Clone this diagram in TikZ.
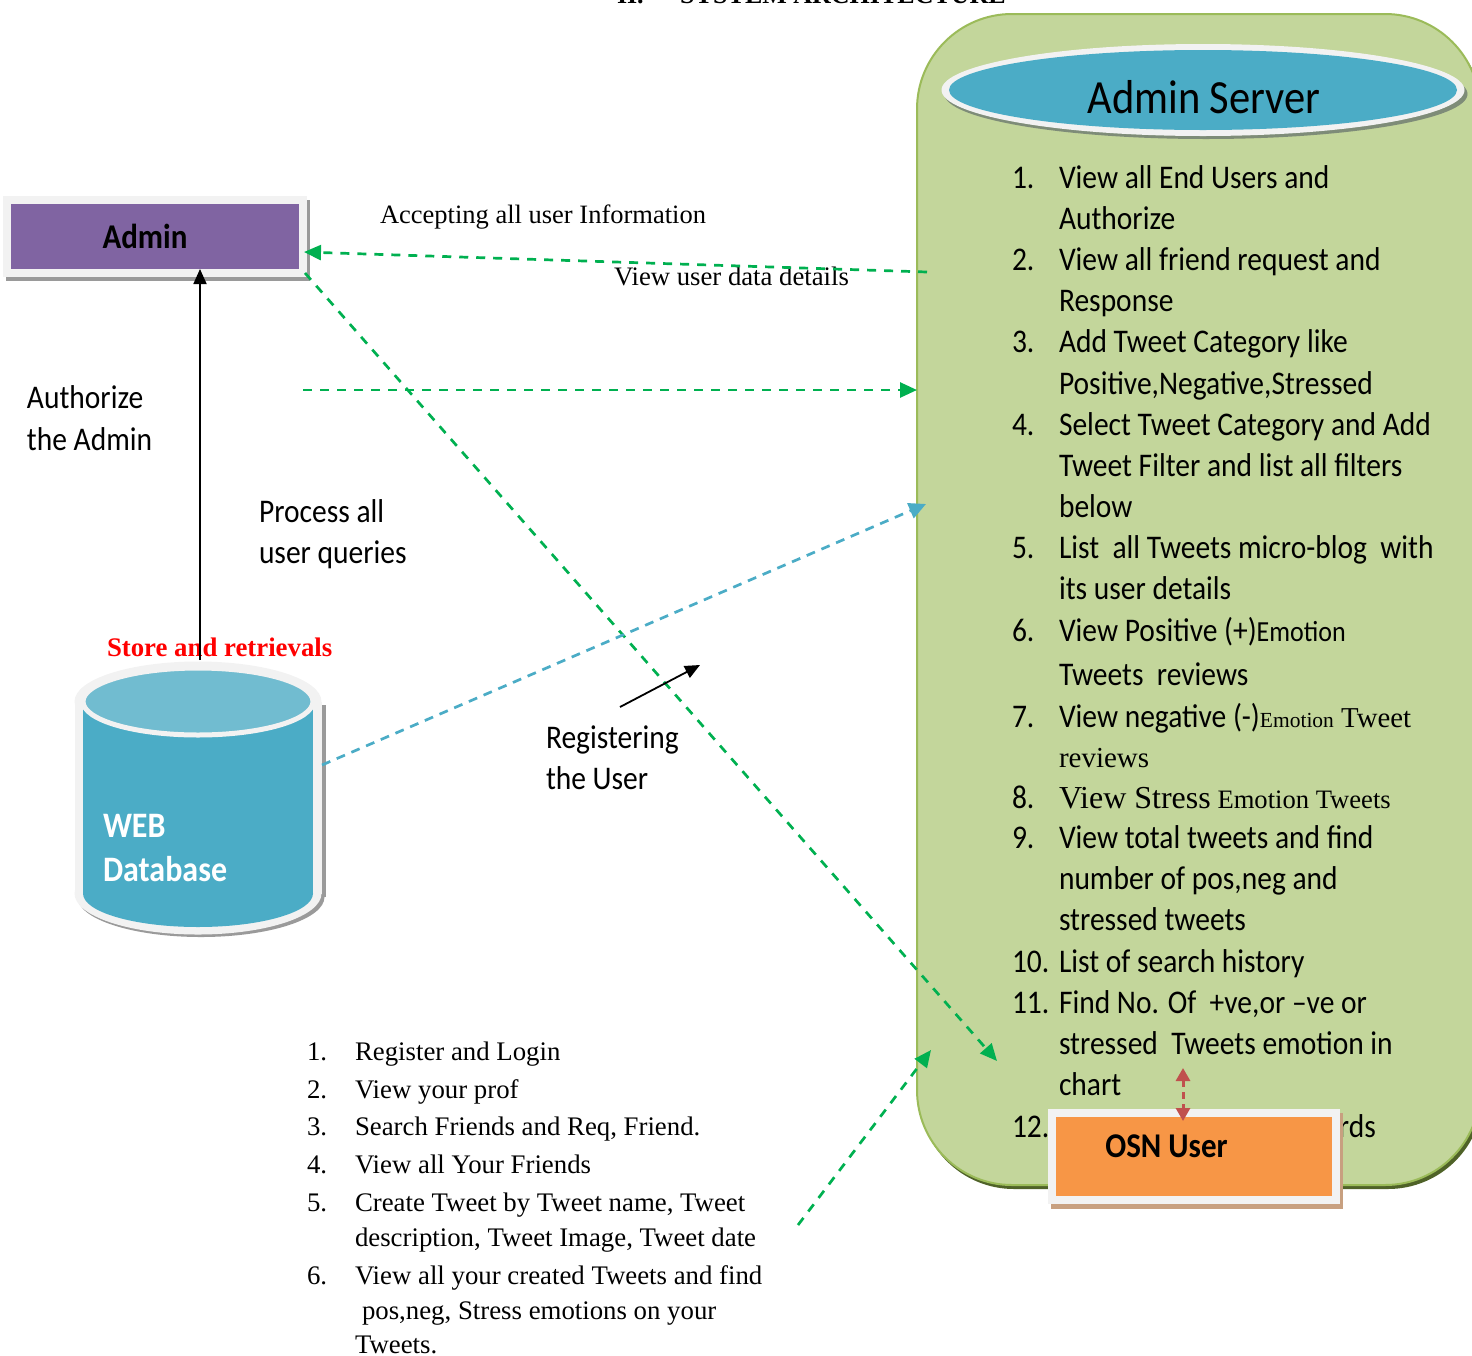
\documentclass[tikz,border=0pt]{standalone}
\usepackage{fontspec}
\usepackage{graphicx}
\setmainfont{Liberation Serif}
\newfontfamily\calib{Carlito}
\usetikzlibrary{arrows.meta}
\definecolor{grn}{HTML}{00B050}
\definecolor{blu}{HTML}{4BACC6}
\definecolor{lgreen}{HTML}{C3D69B}
\definecolor{mgreen}{HTML}{9BBB59}
\definecolor{dgreen}{HTML}{4F6228}
\definecolor{purp}{HTML}{8064A2}
\definecolor{orng}{HTML}{F79646}
\definecolor{frame}{HTML}{F2F2F2}
\definecolor{redd}{HTML}{C0504D}
\definecolor{topcyl}{HTML}{71BCD0}
\definecolor{shgray}{HTML}{9A9A9A}
\definecolor{shgreen}{HTML}{7E8C78}
\definecolor{shbrown}{HTML}{C8A080}
\newcommand\Cs[2]{\scalebox{1}[1.12]{\calib\fontsize{#1}{#1}\selectfont #2}}
\newcommand\Cb[2]{\scalebox{1}[1.12]{\calib\bfseries\fontsize{#1}{#1}\selectfont #2}}
\newcommand\Sr[2]{{\fontsize{#1}{#1}\selectfont #2}}
\begin{document}
\begin{tikzpicture}[x=1pt,y=-1pt,
  lbl/.style={anchor=base west,inner sep=0pt,outer sep=0pt},
  gdash/.style={draw=grn,line width=2.7pt,dash pattern=on 9pt off 8pt,-{Triangle[length=17pt,width=15pt]}},
  bdash/.style={draw=blu,line width=2.7pt,dash pattern=on 9pt off 7pt,-{Triangle[length=17pt,width=16pt]}},
  blk/.style={draw=black,line width=1.8pt,-{Triangle[length=15pt,width=13pt]}},
  rdash/.style={draw=redd,line width=3pt,dash pattern=on 7pt off 5pt,{Triangle[length=13pt,width=14pt]}-{Triangle[length=13pt,width=14pt]}},
  srv/.style={lbl},
]
\useasboundingbox (0,0) rectangle (1472,1355);
\clip (0,0) rectangle (1472,1355);

% title (cut off at the top)
\node[lbl] (ttl1) at (617,3) {\Sr{26}{\bfseries II.}};
\node[lbl] (ttl2) at (680,3) {\Sr{26}{\bfseries SYSTEM ARCHITECTURE}};

% green server container
\fill[dgreen, rounded corners=95pt] (919,18) rectangle (1483,1189);
\shade[top color=lgreen, middle color=mgreen, bottom color=lgreen, rounded corners=95pt] (917,14) rectangle (1480,1185);
\draw[mgreen, line width=2pt, rounded corners=95pt] (917,14) rectangle (1480,1185);

% Admin Server ellipse
\fill[shgreen] (1206,94) ellipse [x radius=261.5pt, y radius=45pt];
\fill[frame] (1203,90) ellipse [x radius=261.5pt, y radius=46pt];
\fill[blu] (1203,90) ellipse [x radius=254pt, y radius=40pt];
\node[anchor=base,inner sep=0pt] (srvtitle) at (1204,113) {\Cs{42.5}{Admin Server}};

% server list
\node[srv] (n1) at (1012,188) {\Cs{29.5}{1.}};
\node[srv] (t1a) at (1059,188) {\Cs{29.5}{View all End Users and}};
\node[srv] (t1b) at (1059,229) {\Cs{29.5}{Authorize}};
\node[srv] (n2) at (1012,270) {\Cs{29.5}{2.}};
\node[srv] (t2a) at (1059,270) {\Cs{29.5}{View all friend request and}};
\node[srv] (t2b) at (1059,311) {\Cs{29.5}{Response}};
\node[srv] (n3) at (1012,352) {\Cs{29.5}{3.}};
\node[srv] (t3a) at (1059,352) {\Cs{29.5}{Add Tweet Category like}};
\node[srv] (t3b) at (1059,394) {\Cs{29.5}{Positive,Negative,Stressed}};
\node[srv] (n4) at (1012,435) {\Cs{29.5}{4.}};
\node[srv] (t4a) at (1059,435) {\Cs{29.5}{Select Tweet Category and Add}};
\node[srv] (t4b) at (1059,476) {\Cs{29.5}{Tweet Filter and list all filters}};
\node[srv] (t4c) at (1059,517) {\Cs{29.5}{below}};
\node[srv] (n5) at (1012,558) {\Cs{29.5}{5.}};
\node[srv] (t5a) at (1059,558) {\Cs{29.5}{List\ \ all Tweets micro-blog\ \ with}};
\node[srv] (t5b) at (1059,599) {\Cs{29.5}{its user details}};
\node[srv] (n6) at (1012,641) {\Cs{29.5}{6.}};
\node[srv] (t6a) at (1059,641) {\Cs{29.5}{View Positive (+)}\Cs{26}{Emotion}};
\node[srv] (t6b) at (1059,685) {\Cs{29.5}{Tweets\ \ reviews}};
\node[srv] (n7) at (1012,727) {\Cs{29.5}{7.}};
\node[srv] (t7a) at (1059,727) {\Cs{29.5}{View negative (-)}\Sr{21.5}{Emotion}\Sr{28.8}{ Tweet}};
\node[srv] (t7b) at (1059,767) {\Sr{29}{reviews}};
\node[srv] (n8) at (1012,808) {\Cs{29.5}{8.}};
\node[srv] (t8a) at (1059,808) {\Sr{32}{View Stress}\Sr{26.6}{ Emotion Tweets}};
\node[srv] (n9) at (1012,848) {\Cs{29.5}{9.}};
\node[srv] (t9a) at (1059,848) {\Cs{29.5}{View total tweets and find}};
\node[srv] (t9b) at (1059,889) {\Cs{29.5}{number of pos,neg and}};
\node[srv] (t9c) at (1059,930) {\Cs{29.5}{stressed tweets}};
\node[srv] (n10) at (1012,972) {\Cs{29.5}{10.}};
\node[srv] (t10a) at (1059,972) {\Cs{29.5}{List of search history}};
\node[srv] (n11) at (1012,1013) {\Cs{29.5}{11.}};
\node[srv] (t11a) at (1059,1013) {\Cs{29.5}{Find No. Of\ \ +ve,or –ve or}};
\node[srv] (t11b) at (1059,1054) {\Cs{29.5}{stressed\ \ Tweets emotion in}};
\node[srv] (t11c) at (1059,1095) {\Cs{29.5}{chart}};
\node[srv] (n12) at (1012,1137) {\Cs{29.5}{12.}};
\node[anchor=base east,inner sep=0pt] (t12a) at (1376,1137) {\Cs{29.5}{rds}};

% Admin box
\fill[shgray] (6,200) rectangle (310,281);
\node[fill=purp, draw=frame, line width=8pt, minimum width=296pt, minimum height=73pt, inner sep=0pt] (admin) at (155,236.5) {};
\node[inner sep=0pt] (admintxt) at (145,236) {\Cb{31}{Admin}};

% left labels
\node[lbl] (auth1) at (27,408) {\Cs{29.5}{Authorize}};
\node[lbl] (auth2) at (27,450) {\Cs{29.5}{the Admin}};
\node[lbl] (proc1) at (259,522) {\Cs{29.5}{Process all}};
\node[lbl] (proc2) at (259,563) {\Cs{29.5}{user queries}};
\node[lbl] (reg1) at (546,748) {\Cs{29.5}{Registering}};
\node[lbl] (reg2) at (546,789) {\Cs{29.5}{the User}};
\node[lbl] (acc) at (380,223) {\Sr{26.5}{Accepting all user Information}};
\node[lbl] (vud) at (614,285) {\Sr{26.7}{View user data details}};

% database cylinder
\fill[shgray] (201,897) ellipse [x radius=123.5pt, y radius=40pt];
\fill[shgray] (78.5,705) rectangle (325.5,897);
\fill[frame] (198,893.5) ellipse [x radius=123.5pt, y radius=41pt];
\fill[frame] (74.5,701.5) rectangle (321.5,893.5);
\fill[frame] (198,701.5) ellipse [x radius=123.5pt, y radius=40pt];
\fill[blu] (198,893.5) ellipse [x radius=115pt, y radius=33.5pt];
\fill[blu] (83,701.5) rectangle (313,893.5);
\draw[frame, line width=5pt, fill=topcyl] (198,701.5) ellipse [x radius=115pt, y radius=33.5pt];
\node[lbl] (web) at (103,837) {\Cb{32}{\color{white}WEB}};
\node[lbl] (dbname) at (103,881) {\Cb{32}{\color{white}Database}};
\node[lbl] (store) at (107,656) {\Sr{26.8}{\bfseries\color{red}Store and retrievals}};

% connectors
\coordinate (a1s) at (927,272);
\coordinate (a1e) at (304,252);
\draw[gdash] (a1s) -- (a1e);
\coordinate (a2s) at (303,390);
\coordinate (a2e) at (917,390);
\draw[gdash] (a2s) -- (a2e);
\coordinate (a3s) at (305,273);
\coordinate (a3e) at (997,1061);
\draw[gdash] (a3s) -- (a3e);
\coordinate (a4s) at (322,765);
\coordinate (a4e) at (926,504);
\draw[bdash] (a4s) -- (a4e);
\coordinate (a5s) at (200,660);
\coordinate (a5e) at (200,269);
\draw[blk] (a5s) -- (a5e);
\coordinate (a6s) at (620,707);
\coordinate (a6e) at (700,665);
\draw[blk] (a6s) -- (a6e);
\coordinate (a7s) at (798,1225);
\coordinate (a7e) at (931,1050);
\draw[gdash] (a7s) -- (a7e);

% OSN User box
\fill[shbrown] (1051,1113) rectangle (1343,1209);
\node[fill=orng, draw=frame, line width=8pt, minimum width=284pt, minimum height=87pt, inner sep=0pt] (osn) at (1194,1156.5) {};
\node[anchor=base,inner sep=0pt] (osntxt) at (1166.5,1157) {\Cb{31}{OSN User}};
\coordinate (a8s) at (1183,1068);
\coordinate (a8e) at (1183,1121);
\draw[rdash] (a8s) -- (a8e);

% bottom list
\node[lbl] (b1n) at (307,1060) {\Sr{26.8}{1.}};
\node[lbl] (b1) at (355,1060) {\Sr{26.8}{Register and Login}};
\node[lbl] (b2n) at (307,1098) {\Sr{26.8}{2.}};
\node[lbl] (b2) at (355,1098) {\Sr{26.8}{View your prof}};
\node[lbl] (b3n) at (307,1135) {\Sr{26.8}{3.}};
\node[lbl] (b3) at (355,1135) {\Sr{26.8}{Search Friends and Req, Friend.}};
\node[lbl] (b4n) at (307,1173) {\Sr{26.8}{4.}};
\node[lbl] (b4) at (355,1173) {\Sr{26.8}{View all Your Friends}};
\node[lbl] (b5n) at (307,1211) {\Sr{26.8}{5.}};
\node[lbl] (b5a) at (355,1211) {\Sr{26.8}{Create Tweet by Tweet name, Tweet}};
\node[lbl] (b5b) at (355,1246) {\Sr{26.8}{description, Tweet Image, Tweet date}};
\node[lbl] (b6n) at (307,1284) {\Sr{26.8}{6.}};
\node[lbl] (b6a) at (355,1284) {\Sr{26.8}{View all your created Tweets and find}};
\node[lbl] (b6b) at (362,1319) {\Sr{26.8}{pos,neg, Stress emotions on your}};
\node[lbl] (b6c) at (355,1353) {\Sr{26.8}{Tweets.}};
\end{tikzpicture}
\end{document}
